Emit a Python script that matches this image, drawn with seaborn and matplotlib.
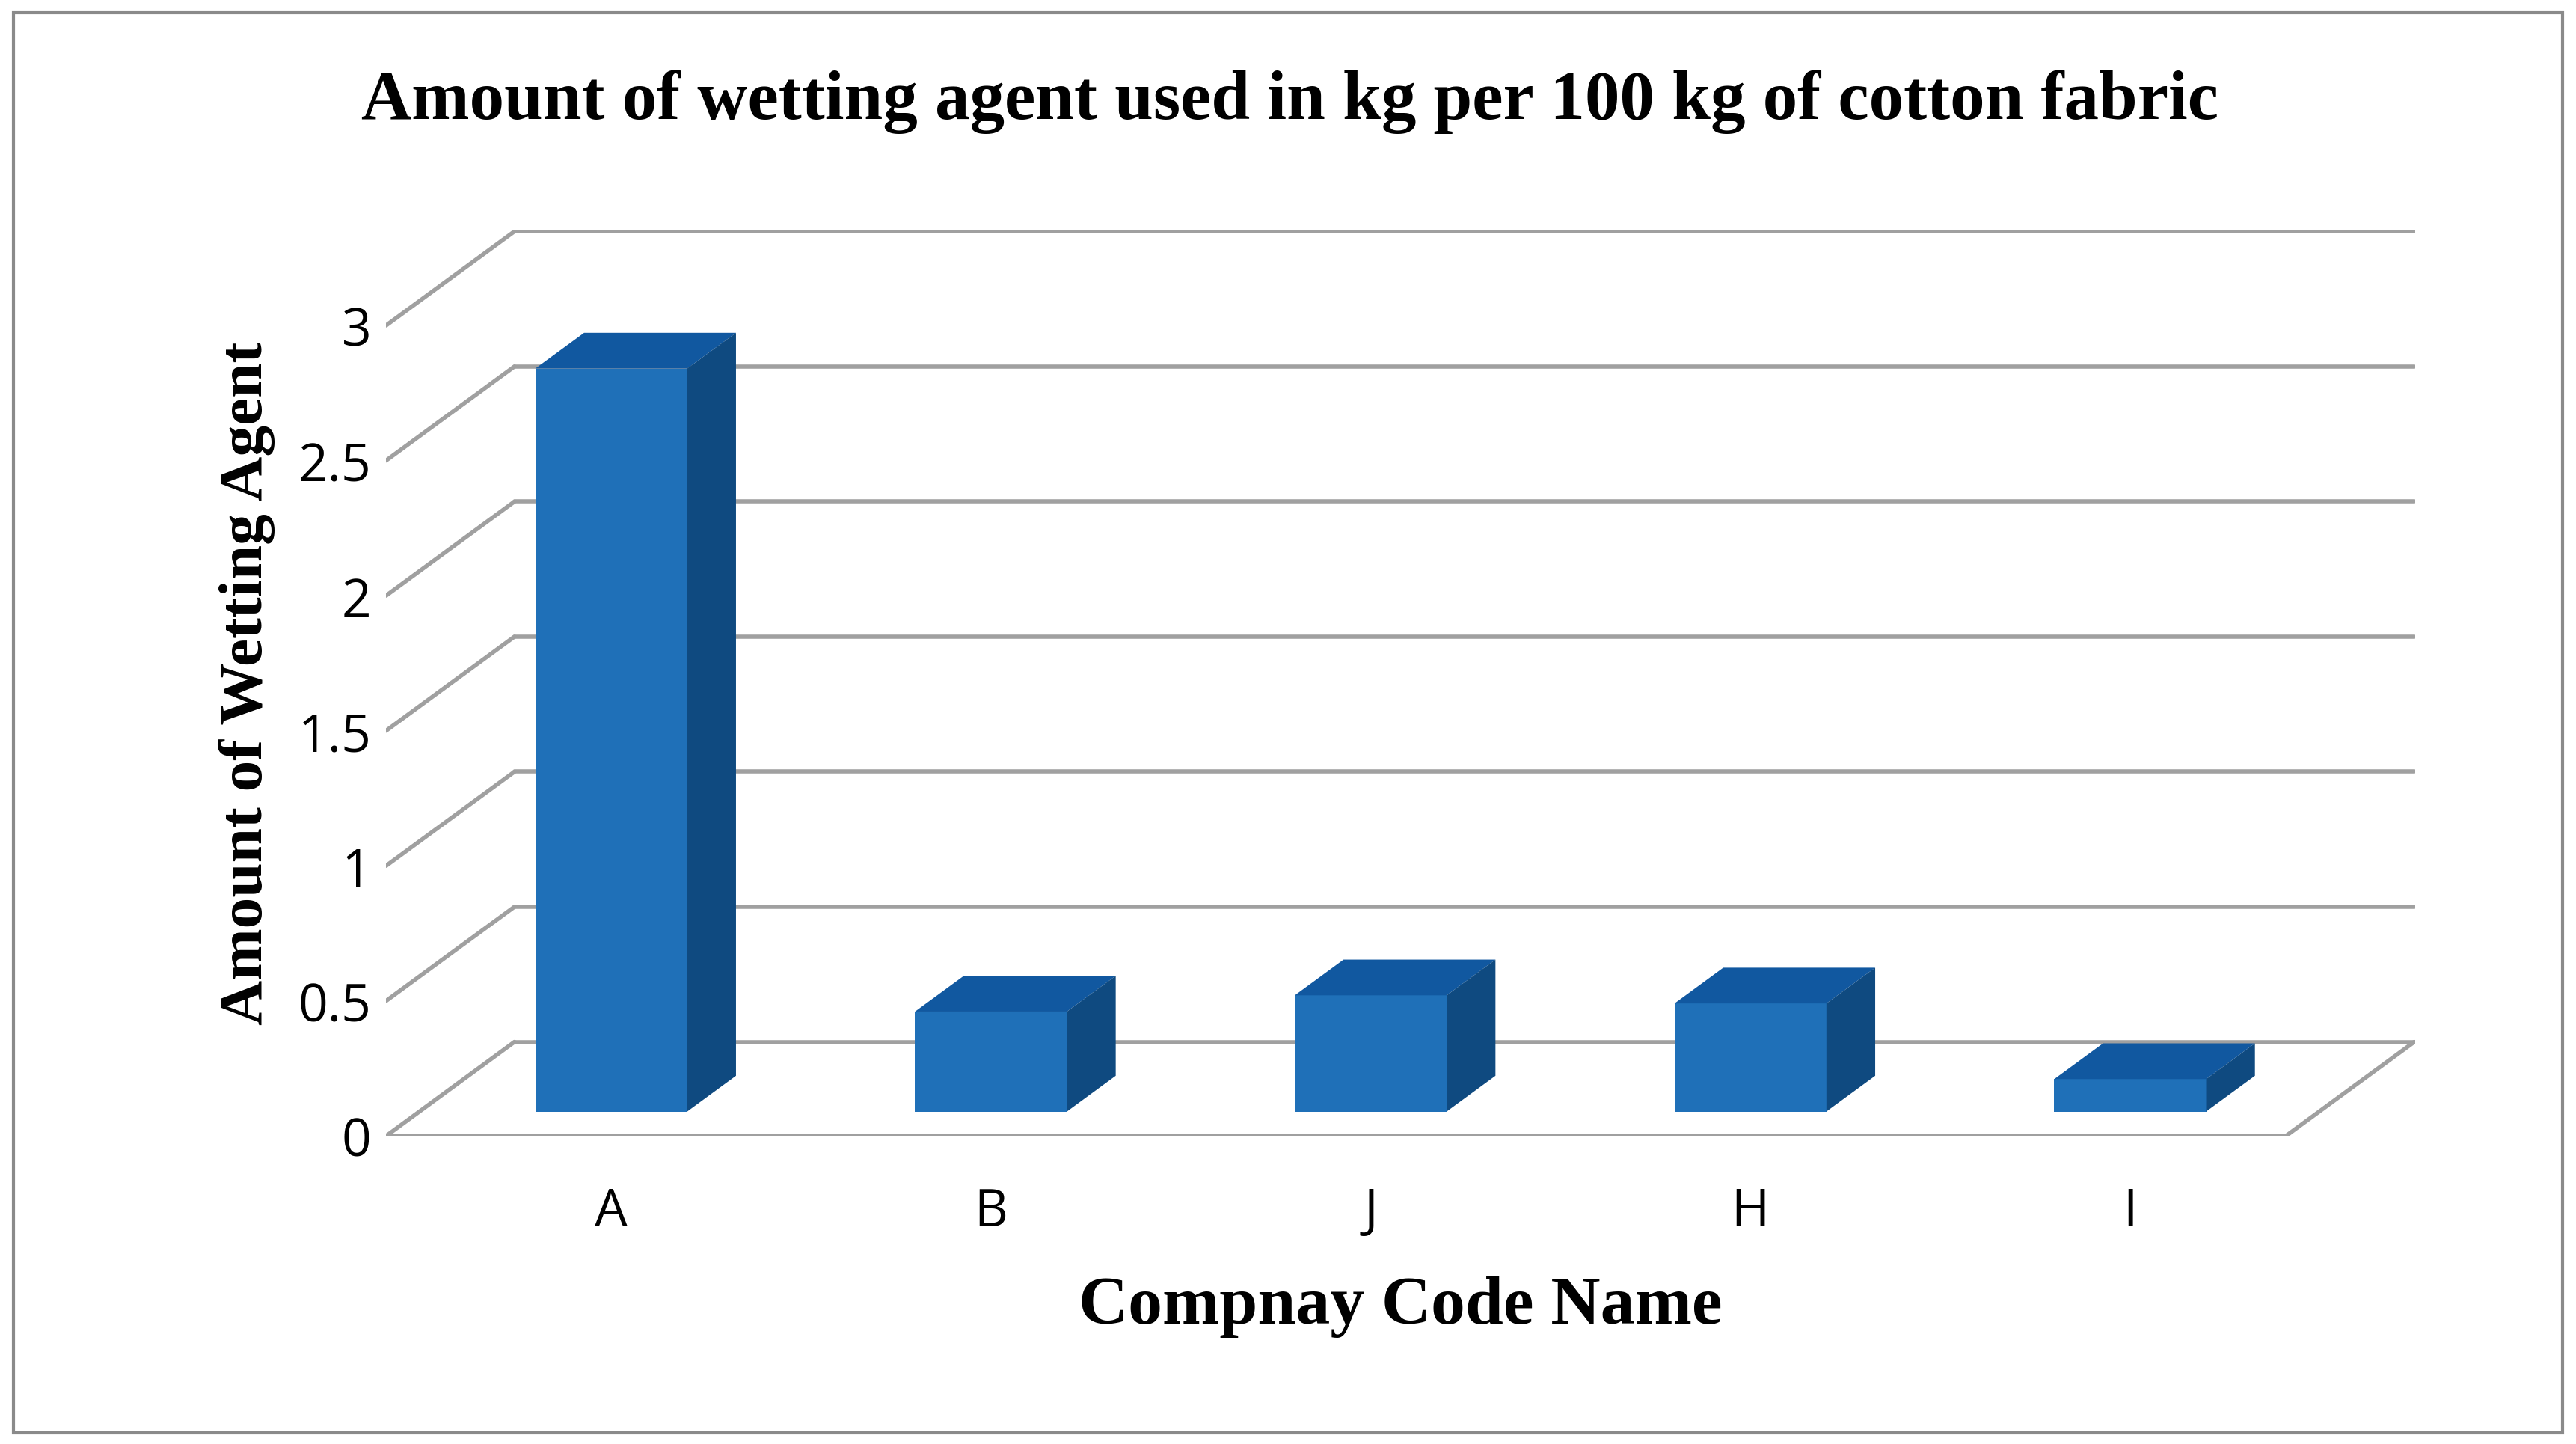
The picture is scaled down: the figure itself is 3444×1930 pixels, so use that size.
import numpy as np
import pandas as pd
import matplotlib
matplotlib.use("Agg")
import matplotlib.pyplot as plt
import seaborn as sns
from matplotlib.patches import Polygon, Rectangle

# Data --------------------------------------------------------------
companies = ["A", "B", "J", "H", "I"]
amounts = [2.75, 0.37, 0.43, 0.40, 0.12]
y_ticks = [0, 0.5, 1, 1.5, 2, 2.5, 3]

df = pd.DataFrame({"company": companies, "amount": amounts})

# Pseudo-3D geometry (data units)
depth_dx, depth_dy = 0.338, 0.348   # full depth offset of back wall
bar_front_y = 0.26 * depth_dy        # bar front face raised above floor edge
bar_depth = 0.38                     # depth fraction of bar
bar_w = 0.40
x_left, x_right_front = -0.593, 4.41

front_c, top_c, side_c = "#1f70b8", "#1158a0", "#0f4a80"
grid_c = "#a0a0a0"

sns.set_style("white")
plt.rcParams["text.color"] = "black"
plt.rcParams["xtick.color"] = "black"
plt.rcParams["ytick.color"] = "black"
plt.rcParams["axes.labelcolor"] = "black"
W, H = 1568, 877
fig = plt.figure(figsize=(34.44, 19.31), dpi=100)
ax = fig.add_axes([235 / W, 1 - 690 / H, (1470 - 235) / W, (690 - 140) / H])

# Grid: left wall diagonals and back wall lines
for t in y_ticks:
    ax.plot([x_left, x_left + depth_dx], [t, t + depth_dy], color=grid_c, lw=4, zorder=1)
    ax.plot([x_left + depth_dx, x_right_front + depth_dx], [t + depth_dy, t + depth_dy],
            color=grid_c, lw=4, zorder=1)
# Floor
ax.plot([x_left, x_right_front, x_right_front + depth_dx],
        [0, 0, depth_dy], color=grid_c, lw=4, zorder=1)

sns.barplot(data=df, x="company", y="amount", color=front_c, width=bar_w,
            saturation=1, ax=ax, zorder=3)

bx, by = bar_depth * depth_dx, bar_depth * depth_dy
for p in ax.patches:
    x0 = p.get_x()
    h = p.get_height()
    p.set_y(bar_front_y)
    p.set_edgecolor("none")
    x1 = x0 + bar_w
    top = bar_front_y + h
    ax.add_patch(Polygon([(x0, top), (x1, top), (x1 + bx, top + by), (x0 + bx, top + by)],
                         closed=True, facecolor=top_c, edgecolor="none", zorder=3))
    ax.add_patch(Polygon([(x1, bar_front_y), (x1 + bx, bar_front_y + by), (x1 + bx, top + by), (x1, top)],
                         closed=True, facecolor=side_c, edgecolor="none", zorder=3))

ax.set_xlim(x_left, 4.75)
ax.set_ylim(0, (690 - 140) / 164)
ax.set_yticks(y_ticks)
ax.set_yticklabels(["0", "0.5", "1", "1.5", "2", "2.5", "3"])
ax.set_xticks(range(len(companies)))
ax.set_xticklabels(companies)
ax.tick_params(axis="both", length=0, labelsize=50, pad=14)
ax.tick_params(axis="x", pad=48)
for lab in ax.get_xticklabels() + ax.get_yticklabels():
    lab.set_family("Open Sans")
for s in ax.spines.values():
    s.set_visible(False)

ax.set_xlabel("Compnay Code Name", fontsize=66, fontweight="bold",
              family="Liberation Serif", labelpad=36)
ax.set_ylabel("Amount of Wetting Agent", fontsize=60, fontweight="bold",
              family="Liberation Serif", labelpad=22)
fig.text(785 / W, 1 - 62 / H, "Amount of wetting agent used in kg per 100 kg of cotton fabric",
         ha="center", va="center", fontsize=67, fontweight="bold", family="Liberation Serif")

fig.patches.append(Rectangle((8 / W, 7 / H), 1552 / W, 862 / H, transform=fig.transFigure,
                             fill=False, edgecolor="#8a8a8a", lw=3))

fig.savefig("out.png", dpi=100)
